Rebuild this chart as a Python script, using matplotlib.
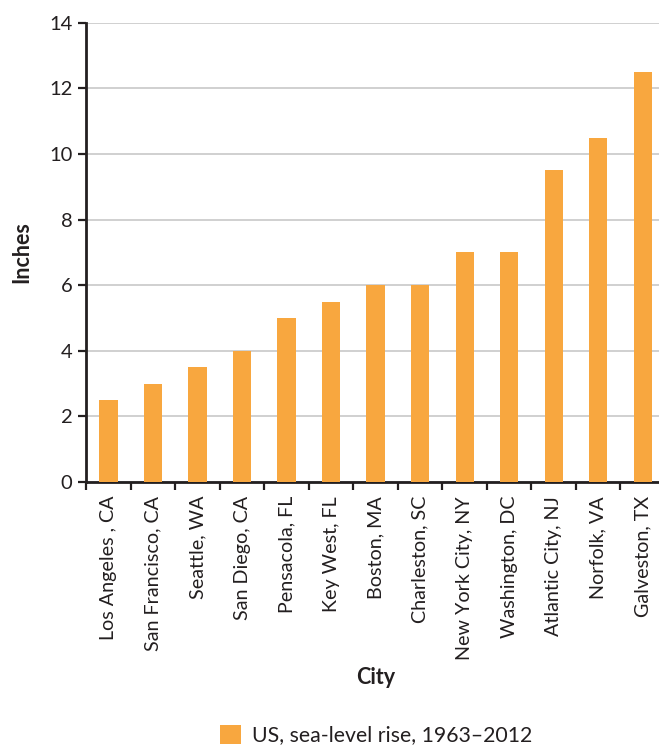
import matplotlib
matplotlib.use("Agg")
import matplotlib.pyplot as plt
import numpy as np

cities = ["Los Angeles , CA", "San Francisco, CA", "Seattle, WA", "San Diego, CA",
          "Pensacola, FL", "Key West, FL", "Boston, MA", "Charleston, SC",
          "New York City, NY", "Washington, DC", "Atlantic City, NJ", "Norfolk, VA",
          "Galveston, TX"]
rise = [2.5, 3.0, 3.5, 4.0, 5.0, 5.5, 6.0, 6.0, 7.0, 7.0, 9.5, 10.5, 12.5]
y_ticks = [0, 2, 4, 6, 8, 10, 12, 14]
series_label = "US, sea-level rise, 1963\u20132012"

plt.rcParams['font.family'] = ['Lato', 'DejaVu Sans']
bar_color = "#F8A73F"
dark = "#231F20"

W, H = 659, 745
fig = plt.figure(figsize=(W / 100, H / 100), dpi=100)
ax = fig.add_axes([86.2 / W, 1 - 482 / H, (665 - 86.2) / W, (482 - 22.7) / H])

x = np.arange(len(cities))
ax.bar(x, rise, width=0.41, color=bar_color, label=series_label, zorder=3)

ax.set_xlim(-0.5, len(cities) - 0.5)
ax.set_ylim(0, 14)
ax.set_yticks(y_ticks)
ax.yaxis.grid(True, color="#C8C8C8", linewidth=1.2, zorder=0)
ax.set_axisbelow(True)

ax.set_xticks(x)
ax.set_xticklabels(cities, rotation=90, fontsize=14.2, color=dark)
ax.set_xticks(np.arange(-0.5, len(cities), 1.0), minor=True)
ax.tick_params(axis='x', which='major', length=0, pad=10)
ax.tick_params(axis='x', which='minor', length=6, width=1.6, color=dark, direction='out')
ax.tick_params(axis='y', length=6, width=1.6, color=dark, labelsize=14.5, labelcolor=dark, pad=4)

for s in ["top", "right"]:
    ax.spines[s].set_visible(False)
for s in ["left", "bottom"]:
    ax.spines[s].set_linewidth(2)
    ax.spines[s].set_color(dark)

fig.text(22 / W, 1 - 252 / H, "Inches", rotation=90, fontsize=15.5, fontweight='bold',
         color=dark, ha='center', va='center')
fig.text(376 / W, 1 - 678 / H, "City", fontsize=15.5, fontweight='bold',
         color=dark, ha='center', va='center')

fig.legend(loc='center', bbox_to_anchor=(376 / W, 1 - 735 / H), frameon=False,
           fontsize=15.3, handlelength=1.0, handleheight=1.0, handletextpad=0.5,
           labelcolor=dark, borderpad=0)

fig.savefig("out.png", dpi=100)
